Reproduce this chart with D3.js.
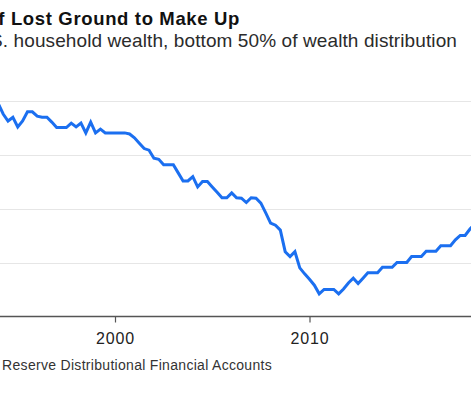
<!DOCTYPE html>
<html>
<head>
<meta charset="utf-8">
<script src="https://cdn.jsdelivr.net/npm/d3@7"></script>
<style>
  html, body { margin: 0; padding: 0; background: #fff; }
  svg { display: block; font-family: "Liberation Sans", Arial, sans-serif; }
</style>
</head>
<body>
<div id="chartArea"></div>
<script>
const svgWidth = 471;
const svgHeight = 393;

// quarterly share of household wealth held by bottom 50% (%)
const years = [
  1994.00, 1994.25, 1994.50, 1994.75, 1995.00, 1995.25, 1995.50, 1995.75,
  1996.00, 1996.25, 1996.50, 1996.75, 1997.00, 1997.25, 1997.50, 1997.75,
  1998.00, 1998.25, 1998.50, 1998.75, 1999.00, 1999.25, 1999.50, 1999.75,
  2000.00, 2000.25, 2000.50, 2000.75, 2001.00, 2001.25, 2001.50, 2001.75,
  2002.00, 2002.25, 2002.50, 2002.75, 2003.00, 2003.25, 2003.50, 2003.75,
  2004.00, 2004.25, 2004.50, 2004.75, 2005.00, 2005.25, 2005.50, 2005.75,
  2006.00, 2006.25, 2006.50, 2006.75, 2007.00, 2007.25, 2007.50, 2007.75,
  2008.00, 2008.25, 2008.50, 2008.75, 2009.00, 2009.25, 2009.50, 2009.75,
  2010.00, 2010.25, 2010.50, 2010.75, 2011.00, 2011.25, 2011.50, 2011.75,
  2012.00, 2012.25, 2012.50, 2012.75, 2013.00, 2013.25, 2013.50, 2013.75,
  2014.00, 2014.25, 2014.50, 2014.75, 2015.00, 2015.25, 2015.50, 2015.75,
  2016.00, 2016.25, 2016.50, 2016.75, 2017.00, 2017.25, 2017.50, 2017.75,
  2018.00, 2018.25, 2018.50
];
const shares = [
  3.94, 3.75, 3.62, 3.69, 3.51, 3.62, 3.79, 3.79,
  3.71, 3.69, 3.69, 3.60, 3.50, 3.50, 3.50, 3.58,
  3.51, 3.58, 3.40, 3.60, 3.40, 3.47, 3.40, 3.40,
  3.40, 3.40, 3.40, 3.38, 3.31, 3.21, 3.11, 3.08,
  2.93, 2.91, 2.81, 2.81, 2.81, 2.66, 2.51, 2.51,
  2.59, 2.40, 2.50, 2.50, 2.40, 2.30, 2.20, 2.20,
  2.29, 2.20, 2.19, 2.11, 2.20, 2.19, 2.10, 1.92,
  1.73, 1.69, 1.60, 1.20, 1.11, 1.20, 0.90, 0.79,
  0.69, 0.58, 0.42, 0.50, 0.50, 0.50, 0.42, 0.51,
  0.62, 0.71, 0.61, 0.71, 0.81, 0.81, 0.81, 0.91,
  0.91, 0.91, 1.00, 1.00, 1.00, 1.11, 1.11, 1.11,
  1.21, 1.21, 1.21, 1.31, 1.31, 1.31, 1.42, 1.50,
  1.50, 1.62, 1.71
];
const gridValues = [1, 2, 3, 4];
const tickYears = [2000, 2010];

const titleText = 'Lots of Lost Ground to Make Up';
const subtitleText = 'Share of U.S. household wealth, bottom 50% of wealth distribution';
const sourceText = 'Source: Federal Reserve Distributional Financial Accounts';

const canvas = d3.select('#chartArea')
  .append('svg')
  .attr('width', svgWidth)
  .attr('height', svgHeight);

// chart is cut on both sides, so the scales run past the picture
const x = d3.scaleLinear()
  .domain([2000, 2010])
  .range([115, 309.5]);

const y = d3.scaleLinear()
  .domain([0, 4])
  .range([316.5, 100.5]);

// gridlines
canvas.append('g')
  .selectAll('line')
  .data(gridValues)
  .join('line')
  .attr('x1', 0)
  .attr('x2', svgWidth)
  .attr('y1', d => Math.round(y(d)) + 0.5)
  .attr('y2', d => Math.round(y(d)) + 0.5)
  .attr('stroke', '#e6e6e6')
  .attr('stroke-width', 1);

// x axis
const xAxis = canvas.append('g')
  .attr('transform', `translate(0,${y(0)})`)
  .call(d3.axisBottom(x)
    .tickValues(tickYears)
    .tickFormat(d3.format('d'))
    .tickSize(6)
    .tickPadding(10));

xAxis.select('.domain').remove();
xAxis.append('line')
  .attr('x1', 0)
  .attr('x2', svgWidth)
  .attr('stroke', '#555')
  .attr('stroke-width', 1.5);
xAxis.selectAll('.tick line')
  .attr('stroke', '#555')
  .attr('stroke-width', 1.2);
xAxis.selectAll('.tick text')
  .attr('fill', '#222')
  .style('font-size', '16px')
  .style('letter-spacing', '0.8px');

// series line
const points = years.map((yr, i) => [yr, shares[i]]);

canvas.append('path')
  .datum(points)
  .attr('fill', 'none')
  .attr('stroke', '#1b6ff0')
  .attr('stroke-width', 3)
  .attr('stroke-linejoin', 'miter')
  .attr('d', d3.line()
    .x(d => x(d[0]))
    .y(d => y(d[1])));

// texts (left side of the original is cropped away)
canvas.append('text')
  .attr('x', 240)
  .attr('y', 25)
  .attr('text-anchor', 'end')
  .attr('fill', '#111')
  .style('font-size', '18.5px')
  .style('font-weight', 'bold')
  .style('letter-spacing', '0.65px')
  .text(titleText);

canvas.append('text')
  .attr('x', 457)
  .attr('y', 47)
  .attr('text-anchor', 'end')
  .attr('fill', '#2b2b2b')
  .style('font-size', '19px')
  .style('letter-spacing', '0.1px')
  .text(subtitleText);

canvas.append('text')
  .attr('x', 272)
  .attr('y', 370)
  .attr('text-anchor', 'end')
  .attr('fill', '#333')
  .style('font-size', '14px')
  .style('letter-spacing', '0.3px')
  .text(sourceText);
</script>
</body>
</html>
